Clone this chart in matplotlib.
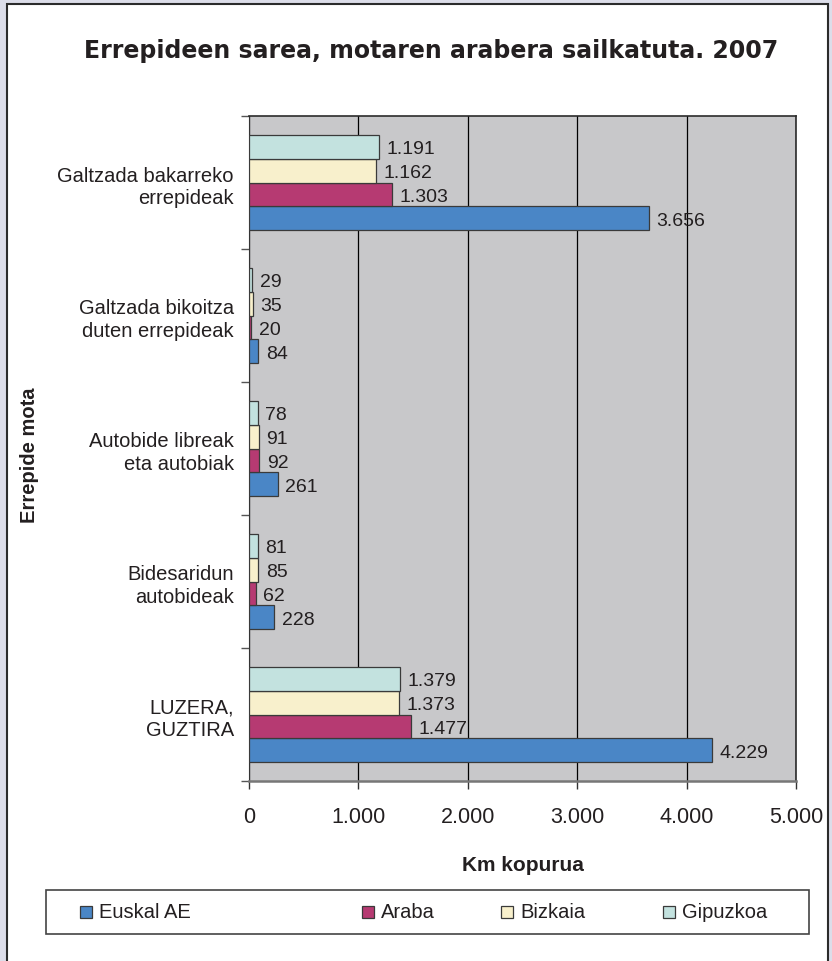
import matplotlib
matplotlib.use("Agg")
import matplotlib.pyplot as plt
import numpy as np
from matplotlib.patches import Rectangle
from matplotlib.ticker import FuncFormatter

plt.rcParams['font.family'] = ['Liberation Sans', 'DejaVu Sans']

categories = ["Galtzada bakarreko\nerrepideak", "Galtzada bikoitza\nduten errepideak",
              "Autobide libreak\neta autobiak", "Bidesaridun\nautobideak", "LUZERA,\nGUZTIRA"]
series_names = ["Euskal AE", "Araba", "Bizkaia", "Gipuzkoa"]
euskal_ae = [3656, 84, 261, 228, 4229]
araba = [1303, 20, 92, 62, 1477]
bizkaia = [1162, 35, 91, 85, 1373]
gipuzkoa = [1191, 29, 78, 81, 1379]
x_ticks = [0, 1000, 2000, 3000, 4000, 5000]

colors = ["#4a86c6", "#b63a72", "#f8f0cc", "#c3e2df"]
text_col = "#231f20"


def fmt(v):
    return "{:,}".format(int(v)).replace(",", ".")


fig = plt.figure(figsize=(8.32, 9.62), dpi=100, facecolor="#dcdde9")
# white inner panel
fig.patches.append(Rectangle((7 / 832, -0.02), 821 / 832, 1 - 5 / 962 + 0.02,
                             transform=fig.transFigure, facecolor="white",
                             edgecolor="#2b2b2b", lw=1.5, zorder=-2))

ax = fig.add_axes([249 / 832, 1 - 782 / 962, 547 / 832, 665 / 962])
ax.set_zorder(2)
ax.set_facecolor("#c8c8ca")

h = 0.18
y = np.arange(len(categories))
series = [euskal_ae, araba, bizkaia, gipuzkoa]
offsets = [1.5 * h, 0.5 * h, -0.5 * h, -1.5 * h]
for vals, col, off in zip(series, colors, offsets):
    ax.barh(y + off, vals, height=h, color=col, edgecolor="#3a3a3a", lw=0.9, zorder=3)
    for yy, v in zip(y + off, vals):
        ax.annotate(fmt(v), (v, yy), xytext=(5.5, -1.5), textcoords="offset points",
                    ha="left", va="center", fontsize=14, color=text_col, zorder=4)

ax.set_xlim(0, 5000)
ax.set_ylim(len(categories) - 0.5, -0.5)
ax.set_xticks(x_ticks)
ax.xaxis.set_major_formatter(FuncFormatter(lambda v, p: fmt(v)))
ax.tick_params(axis="x", length=6, width=1, color="#333333", labelsize=15.5,
               labelcolor=text_col, pad=12)
ax.grid(axis="x", color="black", lw=0.9, zorder=1)
ax.set_axisbelow(True)

ax.set_yticks(y)
ax.set_yticklabels(categories, fontsize=14.5, color=text_col, linespacing=1.25)
ax.tick_params(axis="y", which="major", length=0, pad=11)
ax.set_yticks(np.arange(len(categories) + 1) - 0.5, minor=True)
ax.tick_params(axis="y", which="minor", length=6, width=1, color="#555555")

for s in ["top", "right"]:
    ax.spines[s].set_color("#2b2b2b")
    ax.spines[s].set_linewidth(1.2)
ax.spines["left"].set_color("#333333")
ax.spines["bottom"].set_color("#777777")
ax.spines["bottom"].set_linewidth(1.8)

ax.set_xlabel("Km kopurua", fontsize=15, fontweight="bold", color=text_col, labelpad=20)
fig.text(30 / 832, 1 - 455 / 962, "Errepide mota", rotation=90, ha="center", va="center",
         fontsize=14.5, fontweight="bold", color=text_col)

fig.text(431 / 832, 1 - 51 / 962, "Errepideen sarea, motaren arabera sailkatuta. 2007",
         ha="center", va="center", fontsize=17, fontweight="bold", color=text_col,
         family="DejaVu Sans")

# legend box
fig.patches.append(Rectangle((46 / 832, 1 - 935 / 962), 763 / 832, 44 / 962,
                             transform=fig.transFigure, facecolor="white",
                             edgecolor="#444444", lw=1.2, zorder=1))
leg_x = [80, 362, 501, 663]
for name, col, lx in zip(series_names, colors, leg_x):
    fig.patches.append(Rectangle((lx / 832, 1 - 919 / 962), 12 / 832, 12 / 962,
                                 transform=fig.transFigure, facecolor=col,
                                 edgecolor="#3a3a3a", lw=0.9, zorder=2))
    fig.text((lx + 19) / 832, 1 - 913 / 962, name, ha="left", va="center",
             fontsize=14.5, color=text_col)

fig.savefig("out.png", dpi=100, facecolor=fig.get_facecolor())
